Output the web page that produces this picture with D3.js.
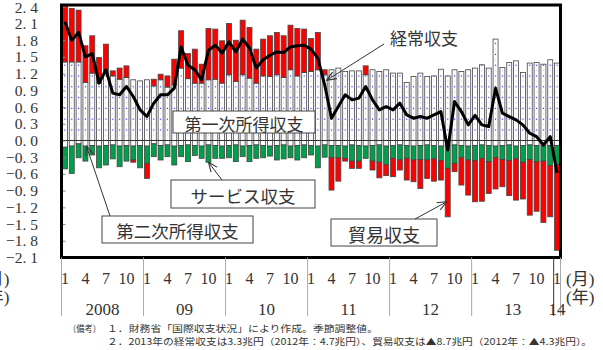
<!DOCTYPE html>
<html>
<head>
<meta charset="utf-8">
<script src="https://cdn.jsdelivr.net/npm/d3@7"></script>
<style>
  body { margin: 0; background: #fff; }
  svg { display: block; }
</style>
</head>
<body>
<svg id="chart" width="603" height="350"></svg>
<script>
// ---- data (兆円, monthly, seasonally adjusted) ----
const years = ["2008", "09", "10", "11", "12", "13", "14"];
const monthTicks = [1, 4, 7, 10];
const yTicks = [2.4, 2.1, 1.8, 1.5, 1.2, 0.9, 0.6, 0.3, 0, -0.3, -0.6, -0.9, -1.2, -1.5, -1.8, -2.1];

// Jan 2008 .. Jan 2014
const months = [];
for (let yr = 2008; yr <= 2013; yr++) for (let m = 1; m <= 12; m++) months.push(yr + "-" + m);
months.push("2014-1");

// 第一次所得収支
const primaryIncome = [
  1.41, 1.41, 1.41, 1.04, 1.21, 1.03, 1.27, 1.16, 1.10, 1.13, 1.09, 1.07,
  1.09, 0.98, 1.09, 0.96, 1.00, 1.30, 1.11, 1.03, 1.03, 1.09, 1.10, 1.03,
  1.18, 1.06, 1.18, 1.12, 1.03, 1.16, 1.15, 1.18, 1.13, 1.27, 1.16, 1.22,
  1.24, 1.27, 1.18, 1.27, 1.30, 1.24, 1.25, 1.25, 1.18, 1.27, 1.24, 1.27,
  1.21, 1.21, 1.04, 1.15, 1.21, 1.15, 1.16, 1.28, 1.16, 1.27, 1.24, 1.27,
  1.30, 1.36, 1.30, 1.82, 1.31, 1.40, 1.43, 1.22, 1.39, 1.40, 1.37, 1.45,
  1.39
];
// 貿易収支
const tradeBalance = [
  1.20, 0.96, 0.93, 0.66, 0.67, 0.46, 0.46, 0.09, 0.20, 0.21, -0.04, 0.00,
  -0.27, 0.12, 0.10, 0.20, 0.46, 0.67, 0.45, 0.61, 0.34, 0.92, 0.90, 0.76,
  0.92, 0.74, 0.98, 0.91, 0.61, 0.66, 0.73, 0.76, 0.75, 0.80, 0.85, 0.78,
  0.59, 0.67, 0.09, -0.58, -0.42, -0.05, -0.13, -0.13, 0.16, -0.16, -0.28, -0.20,
  -0.33, -0.18, -0.39, -0.39, -0.52, -0.33, -0.40, -0.35, -0.87, -0.15, -0.49, -0.63,
  -0.74, -0.77, -0.57, -0.56, -0.49, -0.63, -0.74, -0.66, -1.00, -0.89, -1.10, -0.92,
  -1.54
];
// サービス収支
const servicesBalance = [
  -0.39, -0.49, -0.25, -0.27, -0.17, -0.39, -0.35, -0.25, -0.37, -0.28, -0.25, -0.40,
  -0.31, -0.23, -0.26, -0.21, -0.34, -0.20, -0.30, -0.18, -0.22, -0.31, -0.23, -0.22,
  -0.22, -0.30, -0.19, -0.29, -0.24, -0.22, -0.18, -0.26, -0.25, -0.21, -0.26, -0.23,
  -0.17, -0.39, -0.22, -0.22, -0.22, -0.22, -0.29, -0.28, -0.22, -0.28, -0.31, -0.33,
  -0.23, -0.27, -0.23, -0.25, -0.25, -0.27, -0.24, -0.26, -0.41, -0.33, -0.22, -0.25,
  -0.27, -0.24, -0.29, -0.21, -0.25, -0.28, -0.23, -0.30, -0.26, -0.29, -0.27, -0.36,
  -0.34
];
// 第二次所得収支
const secondaryIncome = [
  -0.12, -0.10, -0.06, -0.10, -0.09, -0.10, -0.09, -0.08, -0.10, -0.09, -0.10, -0.09,
  -0.10, -0.06, -0.09, -0.08, -0.10, -0.09, -0.08, -0.09, -0.10, -0.08, -0.09, -0.10,
  -0.09, -0.08, -0.10, -0.09, -0.08, -0.09, -0.10, -0.09, -0.08, -0.10, -0.09, -0.08,
  -0.09, -0.10, -0.08, -0.09, -0.09, -0.10, -0.08, -0.09, -0.10, -0.09, -0.08, -0.10,
  -0.09, -0.08, -0.09, -0.10, -0.09, -0.08, -0.09, -0.10, -0.09, -0.08, -0.09, -0.10,
  -0.09, -0.08, -0.09, -0.10, -0.09, -0.08, -0.10, -0.09, -0.08, -0.09, -0.10, -0.09,
  -0.09
];
// 経常収支
const currentAccount = [
  2.13, 1.80, 1.94, 1.50, 1.56, 1.03, 1.27, 0.85, 0.82, 0.97, 0.79, 0.55,
  0.43, 0.67, 0.82, 0.82, 0.94, 1.68, 1.35, 1.27, 1.09, 1.62, 1.71, 1.57,
  1.77, 1.59, 1.82, 1.66, 1.30, 1.45, 1.53, 1.59, 1.58, 1.68, 1.70, 1.71,
  1.64, 1.48, 1.00, 0.40, 0.61, 0.82, 0.73, 0.76, 0.97, 0.73, 0.55, 0.61,
  0.55, 0.67, 0.46, 0.40, 0.43, 0.40, 0.46, 0.52, -0.17, 0.70, 0.52, 0.28,
  0.45, 0.28, 0.25, 0.94, 0.49, 0.43, 0.37, 0.28, 0.13, 0.07, -0.08, 0.07,
  -0.58
];

// ---- layout ----
const svg = d3.select("#chart");
const plot = { left: 61.5, right: 560.5, top: 5, bottom: 257.5 };
const serifFont = "'Liberation Serif', 'DejaVu Serif', serif";
const jpFont = "'Noto Sans CJK JP', 'Noto Sans', sans-serif";
const mixFont = "'Liberation Serif', 'Noto Sans CJK JP', serif";

const x = d3.scaleBand().domain(months).range([plot.left, plot.right])
  .paddingInner(0.27).paddingOuter(0.135);
const y = d3.scaleLinear().domain([-2.1, 2.4]).range([257.5, 6.8]);
const xc = i => x(months[i]) + x.bandwidth() / 2;

// dotted fill for primary income bars
const defs = svg.append("defs");
const step = x.step();
const pat = defs.append("pattern").attr("id", "dots")
  .attr("patternUnits", "userSpaceOnUse")
  .attr("x", plot.left).attr("y", 128.6)
  .attr("width", step).attr("height", 10.8);
pat.append("rect").attr("width", step).attr("height", 10.8).attr("fill", "#fff");
pat.append("rect").attr("x", step / 2 - 0.6).attr("y", 0.8).attr("width", 1.2).attr("height", 1.2).attr("fill", "#2a2aff");
pat.append("rect").attr("x", step / 2 - 0.5).attr("y", 6.2).attr("width", 1).attr("height", 1).attr("fill", "#c4c4ff");

defs.append("clipPath").attr("id", "plotClip").append("rect")
  .attr("x", plot.left).attr("y", plot.top)
  .attr("width", plot.right - plot.left).attr("height", plot.bottom - plot.top);

defs.append("marker").attr("id", "arrow")
  .attr("viewBox", "0 0 10 10").attr("refX", 9.5).attr("refY", 5)
  .attr("markerUnits", "userSpaceOnUse")
  .attr("markerWidth", 10).attr("markerHeight", 10).attr("orient", "auto")
  .append("path").attr("d", "M0,1 L9.5,5 L0,9")
  .attr("fill", "none").attr("stroke", "#333").attr("stroke-width", 1.1);

// ---- stacked segments ----
const segments = [];
months.forEach((m, i) => {
  const p = primaryIncome[i], t = tradeBalance[i];
  const s = secondaryIncome[i], v = servicesBalance[i];
  segments.push({ m, y0: 0, y1: p, fill: "url(#dots)" });
  if (t > 0) segments.push({ m, y0: p, y1: p + t, fill: "#ff0000" });
  segments.push({ m, y0: 0, y1: s, fill: "#ffffff" });
  segments.push({ m, y0: s, y1: s + v, fill: "#00a04a" });
  if (t < 0) segments.push({ m, y0: s + v, y1: s + v + t, fill: "#ff0000" });
});

const bars = svg.append("g").attr("clip-path", "url(#plotClip)");
bars.selectAll("rect").data(segments).join("rect")
  .attr("x", d => x(d.m))
  .attr("width", x.bandwidth())
  .attr("y", d => y(Math.max(d.y0, d.y1)))
  .attr("height", d => Math.abs(y(d.y0) - y(d.y1)))
  .attr("fill", d => d.fill)
  .attr("stroke", "#444")
  .attr("stroke-width", 0.8);

// zero line
svg.append("line")
  .attr("x1", plot.left).attr("x2", plot.right)
  .attr("y1", y(0)).attr("y2", y(0))
  .attr("stroke", "#333").attr("stroke-width", 1);

// inner tick marks on the left edge
const innerTicks = svg.append("g").attr("transform", `translate(${plot.left},0)`)
  .call(d3.axisRight(y).tickValues(yTicks).tickSize(4).tickFormat(""));
innerTicks.select(".domain").remove();
innerTicks.selectAll("line").attr("stroke", "#888");

// current account line
svg.append("path")
  .datum(currentAccount)
  .attr("clip-path", "url(#plotClip)")
  .attr("d", d3.line().x((d, i) => xc(i)).y(d => y(d)))
  .attr("fill", "none").attr("stroke", "#000")
  .attr("stroke-width", 3).attr("stroke-linejoin", "round");

// frame
svg.append("rect")
  .attr("x", plot.left).attr("y", plot.top)
  .attr("width", plot.right - plot.left).attr("height", plot.bottom - plot.top)
  .attr("fill", "none").attr("stroke", "#000").attr("stroke-width", 3);

// y axis labels
const fmt = d => (d < 0 ? "\u2212" : "") + Math.abs(d).toFixed(1).replace(".", ". ");
const yAxis = svg.append("g").attr("transform", "translate(40,0)")
  .call(d3.axisLeft(y).tickValues(yTicks).tickSize(0).tickPadding(2).tickFormat(fmt));
yAxis.select(".domain").remove();
yAxis.selectAll("text").attr("font-family", serifFont).attr("font-size", 15.5).attr("fill", "#333");
yAxis.selectAll(".tick").filter(d => d === 2.4).select("text").attr("dy", "0.36em");

// x axis: month labels
const xAxis = svg.append("g").attr("transform", `translate(0,${plot.bottom})`)
  .call(d3.axisBottom(x)
    .tickValues(months.filter(m => monthTicks.includes(+m.split("-")[1])))
    .tickSize(0).tickPadding(15)
    .tickFormat(m => m.split("-")[1]));
xAxis.select(".domain").remove();
xAxis.selectAll("text").attr("font-family", serifFont).attr("font-size", 16).attr("fill", "#333");

// year separators
const yearStarts = months.map((m, i) => i).filter(i => months[i].endsWith("-1"));
const sepX = yearStarts.map(i => x(months[i]) - step * x.paddingInner() / 2).concat([plot.right]);
svg.append("g").selectAll("line").data(sepX).join("line")
  .attr("x1", d => d).attr("x2", d => d)
  .attr("y1", plot.bottom).attr("y2", 316)
  .attr("stroke", (d, i) => i === sepX.length - 2 ? "#333" : "#aaa")
  .attr("stroke-width", 1);

// year labels
svg.append("g").selectAll("text").data(years).join("text")
  .attr("x", (d, k) => {
    const i0 = yearStarts[k];
    const i1 = k < years.length - 1 ? i0 + 11 : i0;
    return (xc(i0) + xc(i1)) / 2;
  })
  .attr("y", 315)
  .attr("text-anchor", "middle")
  .attr("font-family", serifFont).attr("font-size", 17).attr("fill", "#333")
  .text(d => d);

// unit labels
const unitLabels = [["(月)", 284.5], ["(年)", 302.5]];
svg.append("g").selectAll("text").data(unitLabels).join("text")
  .attr("x", 566).attr("y", d => d[1])
  .attr("font-family", mixFont).attr("font-size", 17).attr("fill", "#333")
  .text(d => d[0]);
svg.append("g").selectAll("text").data(unitLabels).join("text")
  .attr("x", 9.5).attr("y", d => d[1])
  .attr("text-anchor", "end")
  .attr("font-family", mixFont).attr("font-size", 17).attr("fill", "#333")
  .text(d => d[0]);

// ---- annotations ----
const boxes = [
  { text: "第一次所得収支", x: 173, y: 111, w: 142, h: 22, size: 17 },
  { text: "第二次所得収支", x: 102, y: 216, w: 151, h: 27, size: 17.5 },
  { text: "サービス収支", x: 171, y: 180, w: 144, h: 28, size: 17.5 },
  { text: "貿易収支", x: 331, y: 219, w: 106, h: 27, size: 18 }
];
const boxG = svg.append("g").selectAll("g").data(boxes).join("g");
boxG.append("rect")
  .attr("x", d => d.x).attr("y", d => d.y).attr("width", d => d.w).attr("height", d => d.h)
  .attr("fill", "#fff").attr("stroke", "#444").attr("stroke-width", 1);
boxG.append("text")
  .attr("x", d => d.x + d.w / 2).attr("y", d => d.y + d.h / 2 + 1)
  .attr("text-anchor", "middle").attr("dominant-baseline", "central")
  .attr("font-family", jpFont).attr("font-size", d => d.size).attr("fill", "#333")
  .text(d => d.text);

svg.append("text")
  .attr("x", 390).attr("y", 37).attr("dominant-baseline", "central")
  .attr("font-family", jpFont).attr("font-size", 17).attr("fill", "#333")
  .text("経常収支");

const arrows = [
  { from: [384, 44], to: [xc(38) + 2, y(1.08)] },
  { from: [110, 216], to: [xc(3) + 1, y(-0.10)] },
  { from: [222, 180], to: [xc(21), y(-0.39)] },
  { from: [415, 219], to: [xc(56) - 1, y(-1.10)] }
];
svg.append("g").selectAll("line").data(arrows).join("line")
  .attr("x1", d => d.from[0]).attr("y1", d => d.from[1])
  .attr("x2", d => d.to[0]).attr("y2", d => d.to[1])
  .attr("stroke", "#333").attr("stroke-width", 1)
  .attr("marker-end", "url(#arrow)");

// ---- notes ----
const notes = svg.append("g").attr("font-family", jpFont).attr("font-size", 9).attr("fill", "#333");
notes.append("text").attr("x", 68).attr("y", 332)
  .attr("textLength", 33).attr("lengthAdjust", "spacingAndGlyphs")
  .text("（備考）");
notes.append("text").attr("x", 107).attr("y", 332)
  .attr("textLength", 271).attr("lengthAdjust", "spacingAndGlyphs")
  .text("１．財務省「国際収支状況」により作成。季節調整値。");
notes.append("text").attr("x", 107).attr("y", 345)
  .attr("textLength", 485).attr("lengthAdjust", "spacingAndGlyphs")
  .text("２．2013年の経常収支は3.3兆円（2012年：4.7兆円）、貿易収支は▲8.7兆円（2012年：▲4.3兆円）。");
</script>
</body>
</html>
